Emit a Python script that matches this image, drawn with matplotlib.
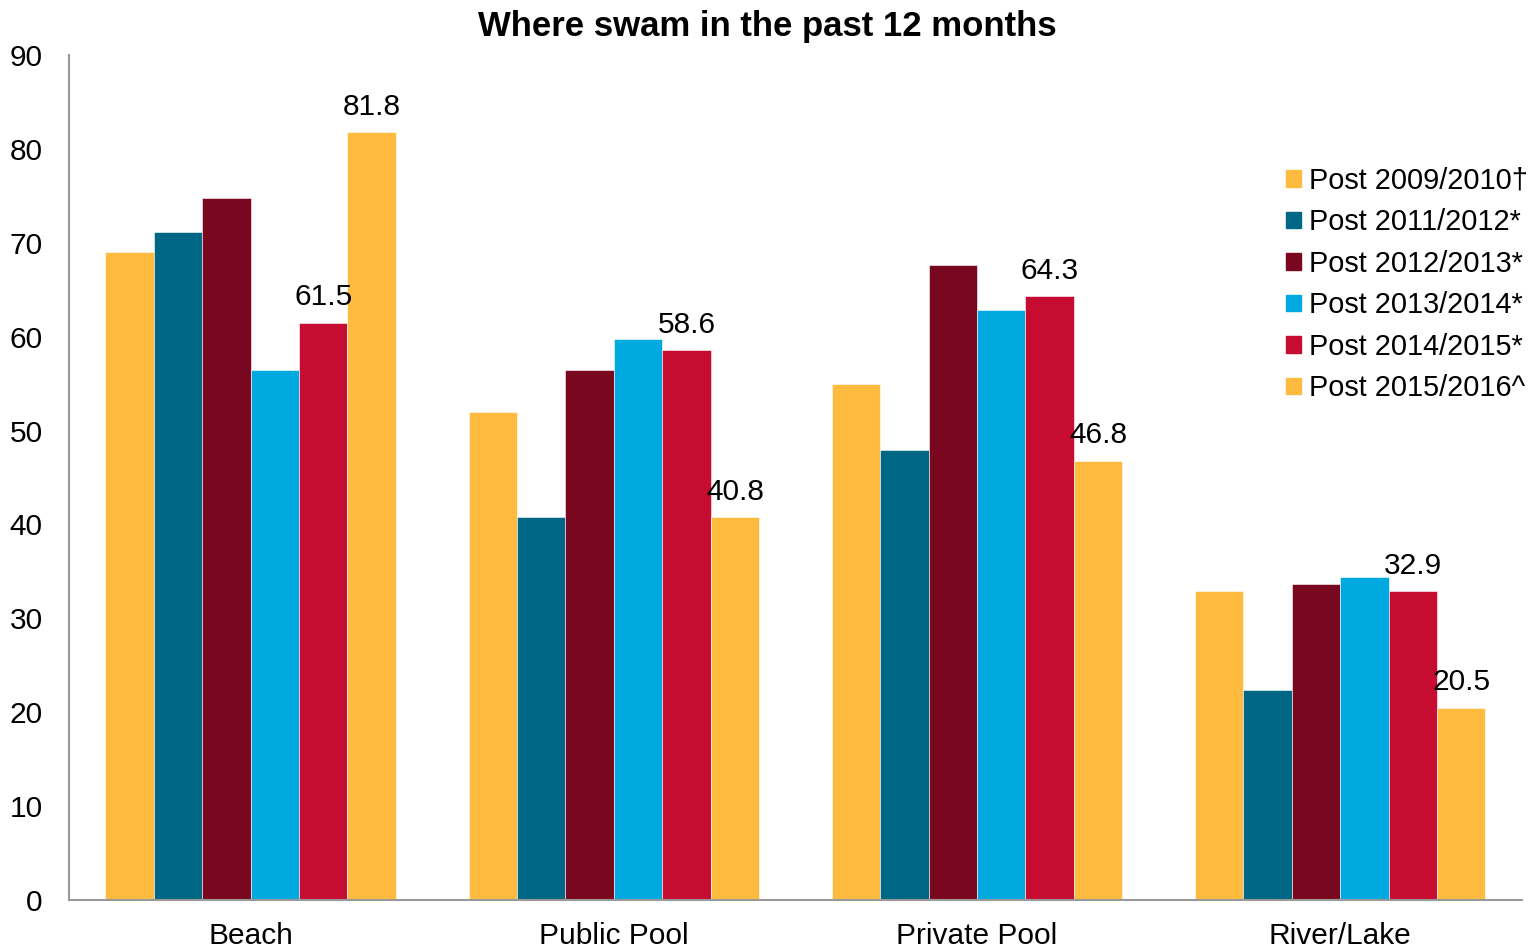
import numpy as np
import matplotlib.pyplot as plt
from matplotlib.patches import Patch

plt.rcParams['font.family'] = ['Liberation Sans', 'DejaVu Sans']

#===================== data ==================================================
categories = ['Beach', 'Public Pool', 'Private Pool', 'River/Lake']
series = ['Post 2009/2010\u2020', 'Post 2011/2012*', 'Post 2012/2013*',
          'Post 2013/2014*', 'Post 2014/2015*', 'Post 2015/2016^']
p0910 = [69.0, 52.0, 55.0, 32.9]
p1112 = [71.1, 40.8, 47.9, 22.4]
p1213 = [74.8, 56.4, 67.6, 33.7]
p1314 = [56.5, 59.7, 62.8, 34.4]
p1415 = [61.5, 58.6, 64.3, 32.9]
p1516 = [81.8, 40.8, 46.8, 20.5]
values = [p0910, p1112, p1213, p1314, p1415, p1516]
labelled = [4, 5]   # only the last two series carry data labels

colors = ['#FFBB3F', '#006685', '#7A0720', '#00A9DF', '#C60C30', '#FFBB3F']

#===================== plot ==================================================
fig = plt.figure(figsize=(15.34, 9.48), dpi=100)
ax = fig.add_axes([0.045, 0.0506, 0.947, 0.8914])

x = np.arange(len(categories))
w = 0.8 / len(series)
for i, vals in enumerate(values):
    pos = x - 0.4 + w * (i + 0.5)
    ax.bar(pos, vals, w, color=colors[i], edgecolor='white', linewidth=0.4)
    if i in labelled:
        for xp, v in zip(pos, vals):
            ax.annotate('%.1f' % v, (xp, v), xytext=(0, 8),
                        textcoords='offset points', ha='center', va='bottom',
                        fontsize=21.5)

ax.set_xlim(-0.5, len(categories) - 0.5)
ax.set_ylim(0, 90)
ax.set_yticks(np.arange(0, 91, 10))
ax.set_xticks(x)
ax.set_xticklabels(categories, fontsize=21.5)
ax.tick_params(axis='y', length=0, labelsize=21.5, pad=19)
ax.tick_params(axis='x', length=0, pad=16)
for s in ['top', 'right']:
    ax.spines[s].set_visible(False)
for s in ['left', 'bottom']:
    ax.spines[s].set_color('#999999')
    ax.spines[s].set_linewidth(1.5)

fig.text(0.5, 0.972, 'Where swam in the past 12 months', fontsize=25,
         fontweight='bold', ha='center', va='center')

handles = [Patch(color=c) for c in colors]
ax.legend(handles, series, loc='upper left', bbox_to_anchor=(0.838, 0.868),
          frameon=False, fontsize=20.8, handlelength=0.5, handleheight=0.5,
          handletextpad=0.28, labelspacing=0.47, borderpad=0, borderaxespad=0)

plt.savefig('out.png', dpi=100)
